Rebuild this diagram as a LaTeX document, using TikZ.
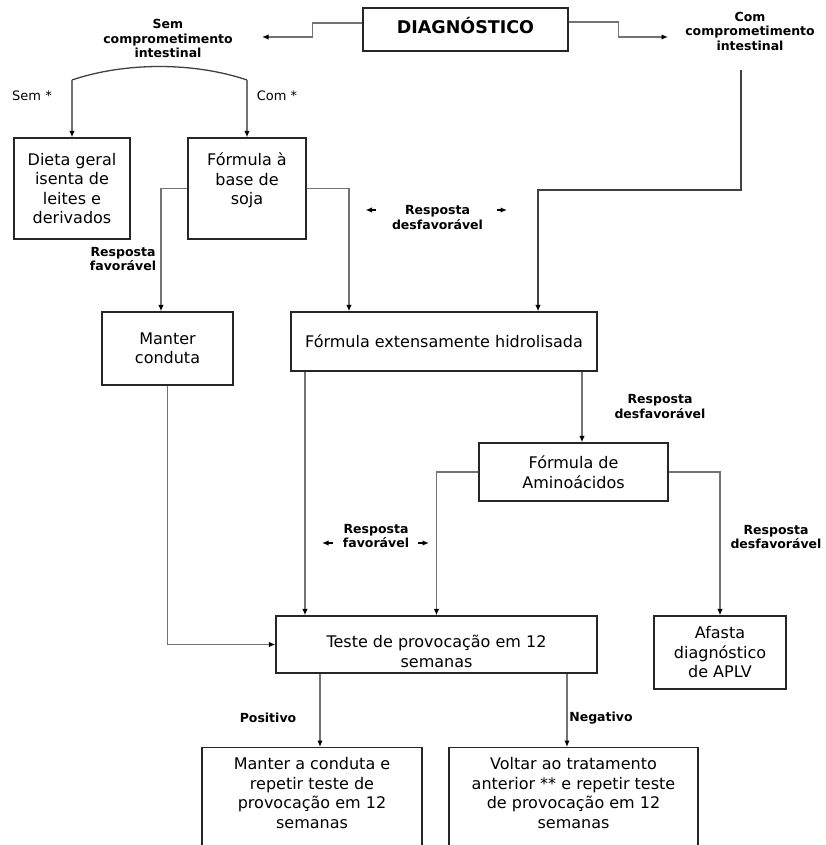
\documentclass[tikz,border=0pt]{standalone}
\usepackage{fontspec}
\setmainfont{DejaVu Sans}
\usetikzlibrary{arrows.meta}

\tikzset{
  caixa/.style={draw=black!85, line width=1.3pt, align=center, inner sep=3pt,
    font=\fontsize{16}{19.5}\selectfont},
  rotulo/.style={align=center, inner sep=1pt,
    font=\fontsize{12.5}{14.5}\selectfont\bfseries},
  seta/.style={draw=black!55, line width=1.3pt,
    -{Latex[length=6.5pt,width=5.5pt,color=black]}},
  linha/.style={draw=black!75, line width=1.3pt}
}

\begin{document}
\begin{tikzpicture}[x=1pt, y=-1pt]
      \useasboundingbox (0,0) rectangle (825,845);

      % Draw the boxes
      \node[caixa, minimum width=205, minimum height=43,
        font=\fontsize{17.5}{20}\selectfont\bfseries] (diag) at (465.5,29.5) {DIAGNÓSTICO\rule[-9pt]{0pt}{0pt}};
      \node[caixa, minimum width=116, minimum height=101] (dieta) at (72,188.5) {Dieta geral\\isenta de\\leites e\\derivados};
      \node[caixa, minimum width=118, minimum height=101] (soja) at (247,188.5) {Fórmula à\\base de\\soja\rule[-19pt]{0pt}{0pt}};
      \node[caixa, minimum width=131, minimum height=73] (manter) at (167.5,348.5) {Manter\\conduta};
      \node[caixa, minimum width=306, minimum height=59] (hidro) at (444,341.5) {Fórmula extensamente hidrolisada};
      \node[caixa, minimum width=189, minimum height=58] (amino) at (573.5,472) {Fórmula de\\Aminoácidos};
      \node[caixa, minimum width=321, minimum height=57] (teste) at (436.5,644.5) {\rule{0pt}{26pt}Teste de provocação em 12\\semanas};
      \node[caixa, minimum width=132, minimum height=73] (afasta) at (720,652.5) {Afasta\\diagnóstico\\de APLV};
      \node[caixa, minimum width=220, anchor=north] (repetir) at (312,747) {\rule{0pt}{19pt}Manter a conduta e\\repetir teste de\\provocação em 12\\semanas\rule[-50pt]{0pt}{50pt}};
      \node[caixa, minimum width=249, anchor=north] (voltar) at (573.5,747) {\rule{0pt}{19pt}Voltar ao tratamento\\anterior ** e repetir teste\\de provocação em 12\\semanas\rule[-50pt]{0pt}{50pt}};

      % Draw the labels
      \node[rotulo] (semlbl) at (168,38.5) {Sem\\comprometimento\\intestinal};
      \node[rotulo] (comlbl) at (750,31) {Com\\comprometimento\\intestinal};
      \node[font=\fontsize{13}{15}\selectfont] (sem) at (32,96) {Sem *};
      \node[font=\fontsize{13}{15}\selectfont] (com) at (277,96) {Com *};
      \node[rotulo] (fav1) at (123,259) {Resposta\\favorável};
      \node[rotulo] (desf1) at (437.5,217.5) {Resposta\\desfavorável};
      \node[rotulo] (desf2) at (660,406.5) {Resposta\\desfavorável};
      \node[rotulo] (fav2) at (376,536) {Resposta\\favorável};
      \node[rotulo] (desf3) at (776,537) {Resposta\\desfavorável};
      \node[rotulo] (pos) at (268,718) {Positivo};
      \node[rotulo] (neg) at (601,718) {Negativo};

      \coordinate (semfim) at (262,37);
      \coordinate (comfim) at (668,37);
      \coordinate (arcoE) at (72,80);
      \coordinate (arcoD) at (247,80);
      \coordinate (comsai) at (741,70);

      % Draw the edges
      \draw[seta] ([yshift=6.5pt]diag.west) -- ++(-50,0) |- (semfim);
      \draw[seta] ([yshift=7.5pt]diag.east) -- ++(50,0) |- (comfim);
      \draw[linha] (arcoE) .. controls (125,62) and (194,62) .. (arcoD);
      \draw[seta] (arcoE) -- (dieta);
      \draw[seta] (arcoD) -- (soja);
      \draw[seta] (soja.west) -| ([xshift=-6.5pt]manter.north);
      \draw[seta] (soja.east) -| ([xshift=-95pt]hidro.north);
      \draw[seta, draw=black!75] (comsai) -- ++(0,120) -| ([xshift=94pt]hidro.north);
      \draw[seta] ([xshift=138pt]hidro.south) -- ([xshift=138pt]hidro.south |- amino.north);
      \draw[seta] ([xshift=-139pt]hidro.south) -- ([xshift=-139pt]hidro.south |- teste.north);
      \draw[seta] (manter.south) |- (teste.west);
      \draw[seta] (amino.west) -| (teste.north);
      \draw[seta] (amino.east) -| (afasta.north);
      \draw[seta] ([xshift=-116.5pt]teste.south) -- ([xshift=-116.5pt]teste.south |- repetir.north);
      \draw[seta] ([xshift=130.5pt]teste.south) -- ([xshift=130.5pt]teste.south |- voltar.north);

      % small arrows beside the labels
      \draw[seta, draw=black] ([shift={(-62,-7.5)}]desf1.center) -- ++(-10,0);
      \draw[seta, draw=black] ([shift={(59.5,-7.5)}]desf1.center) -- ++(10,0);
      \draw[seta, draw=black] ([shift={(-43,7)}]fav2.center) -- ++(-11,0);
      \draw[seta, draw=black] ([shift={(42,7)}]fav2.center) -- ++(11,0);
\end{tikzpicture}
\end{document}
